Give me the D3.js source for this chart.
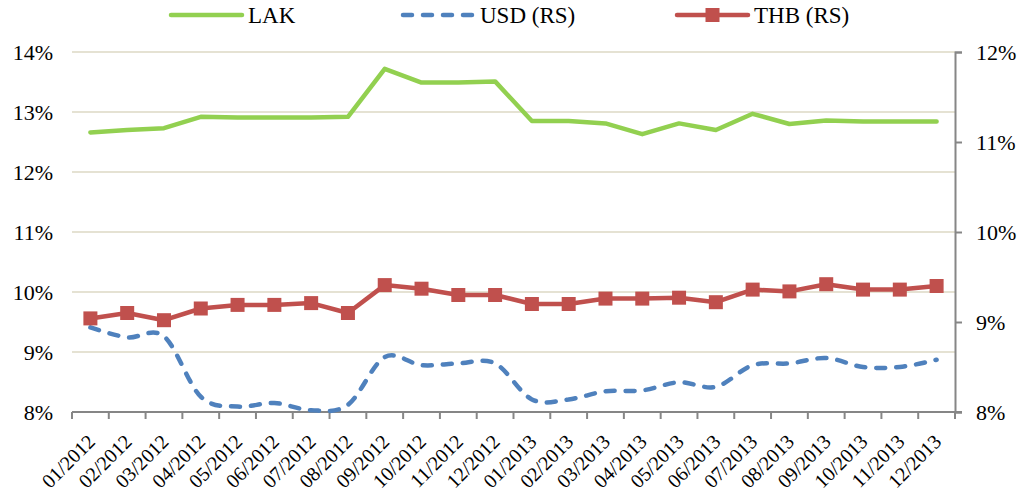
<!DOCTYPE html>
<html>
<head>
<meta charset="utf-8">
<script src="https://cdn.jsdelivr.net/npm/d3@7/dist/d3.min.js"></script>
<style>
  body { margin: 0; background: #fff; }
  svg { display: block; }
  text { font-family: "Liberation Serif", "Times New Roman", serif; fill: #000; }
</style>
</head>
<body>
<div id="chart"></div>
<script>
// months on the category axis
var months = ["01/2012","02/2012","03/2012","04/2012","05/2012","06/2012",
              "07/2012","08/2012","09/2012","10/2012","11/2012","12/2012",
              "01/2013","02/2013","03/2013","04/2013","05/2013","06/2013",
              "07/2013","08/2013","09/2013","10/2013","11/2013","12/2013"];

// LAK, left scale (%)
var lak = [12.66, 12.70, 12.73, 12.92, 12.91, 12.91, 12.91, 12.92, 13.72, 13.49, 13.49, 13.51,
           12.85, 12.85, 12.81, 12.63, 12.81, 12.70, 12.97, 12.80, 12.86, 12.84, 12.84, 12.84];

// USD, right scale (%)
var usd = [8.94, 8.83, 8.84, 8.17, 8.06, 8.10, 8.02, 8.08, 8.61, 8.52, 8.54, 8.54,
           8.14, 8.14, 8.23, 8.24, 8.33, 8.28, 8.52, 8.54, 8.60, 8.50, 8.50, 8.58];

// THB, right scale (%)
var thb = [9.04, 9.10, 9.02, 9.15, 9.19, 9.19, 9.21, 9.10, 9.41, 9.37, 9.30, 9.30,
           9.20, 9.20, 9.26, 9.26, 9.27, 9.22, 9.36, 9.34, 9.42, 9.36, 9.36, 9.40];

var leftTicks = [8, 9, 10, 11, 12, 13, 14];
var rightTicks = [8, 9, 10, 11, 12];

var margin = {top: 52, right: 69, bottom: 79, left: 72},
    W = 1024, H = 491,
    width = W - margin.left - margin.right,
    height = H - margin.top - margin.bottom;

var svg = d3.select("#chart").append("svg")
    .attr("width", W)
    .attr("height", H);

var g = svg.append("g")
    .attr("transform", "translate(" + margin.left + "," + margin.top + ")");

var x = d3.scaleBand().domain(months).range([0, width]);
var yL = d3.scaleLinear().domain([8, 14]).range([height, 0]);
var yR = d3.scaleLinear().domain([8, 12]).range([height, 0]);
var cx = function(i) { return x(months[i]) + x.bandwidth() / 2; };

// gridlines (left axis)
g.append("g")
  .selectAll("line")
  .data(leftTicks.filter(function(d) { return d > 8; }))
  .enter().append("line")
    .attr("x1", 0).attr("x2", width)
    .attr("y1", function(d) { return yL(d); })
    .attr("y2", function(d) { return yL(d); })
    .style("stroke", "#ddd9c4")
    .style("stroke-width", 1.5);

// left axis labels (no line)
var axL = g.append("g")
  .call(d3.axisLeft(yL).tickValues(leftTicks).tickSize(0).tickPadding(19)
        .tickFormat(function(d) { return d + "%"; }));
axL.select(".domain").remove();
axL.selectAll("text").style("font-size", "22px").style("font-family", "Liberation Serif");

// right axis
var axR = g.append("g")
  .attr("transform", "translate(" + width + ",0)")
  .call(d3.axisRight(yR).tickValues(rightTicks).tickSize(7).tickPadding(14)
        .tickFormat(function(d) { return d + "%"; }));
axR.select(".domain").style("stroke", "#868686").style("stroke-width", 2);
axR.selectAll("line").style("stroke", "#868686").style("stroke-width", 2);
axR.selectAll("text").style("font-size", "22px").style("font-family", "Liberation Serif");

// bottom axis: ticks at category boundaries
var xb = g.append("g").attr("transform", "translate(0," + height + ")");
xb.append("line")
  .attr("x1", 0).attr("x2", width + 7)
  .style("stroke", "#868686").style("stroke-width", 2);
xb.selectAll("line.tk")
  .data(d3.range(months.length + 1))
  .enter().append("line")
    .attr("class", "tk")
    .attr("x1", function(i) { return i * x.step(); })
    .attr("x2", function(i) { return i * x.step(); })
    .attr("y1", 0).attr("y2", 7)
    .style("stroke", "#868686").style("stroke-width", 2);
xb.selectAll("text")
  .data(months)
  .enter().append("text")
    .attr("text-anchor", "end")
    .attr("transform", function(d, i) {
      return "translate(" + (cx(i) - 4) + ",21) rotate(-45)";
    })
    .attr("dy", "0.7em")
    .style("font-size", "20px")
    .style("font-family", "Liberation Serif")
    .text(function(d) { return d; });

// lines
var lineL = d3.line().x(function(d, i) { return cx(i); }).y(function(d) { return yL(d); });
var lineR = d3.line().x(function(d, i) { return cx(i); }).y(function(d) { return yR(d); });
var lineSmooth = d3.line().x(function(d, i) { return cx(i); }).y(function(d) { return yR(d); })
    .curve(d3.curveCardinal.tension(0));

g.append("path").datum(lak)
  .attr("d", lineL)
  .style("fill", "none").style("stroke", "#92d050")
  .style("stroke-width", 4.5).style("stroke-linecap", "round").style("stroke-linejoin", "round");

g.append("path").datum(usd)
  .attr("d", lineSmooth)
  .style("fill", "none").style("stroke", "#4f81bd")
  .style("stroke-width", 4.5).style("stroke-linecap", "round")
  .style("stroke-dasharray", "9,11");

g.append("path").datum(thb)
  .attr("d", lineR)
  .style("fill", "none").style("stroke", "#c0504d")
  .style("stroke-width", 4.5).style("stroke-linejoin", "round");

g.selectAll("rect.thb")
  .data(thb)
  .enter().append("rect")
    .attr("class", "thb")
    .attr("x", function(d, i) { return cx(i) - 7; })
    .attr("y", function(d) { return yR(d) - 7; })
    .attr("width", 14).attr("height", 14)
    .style("fill", "#c0504d");

// legend
var legend = [
  {name: "LAK", color: "#92d050", dash: null, marker: false, x: 171},
  {name: "USD (RS)", color: "#4f81bd", dash: "9,11", marker: false, x: 403},
  {name: "THB (RS)", color: "#c0504d", dash: null, marker: true, x: 677}
];
var lg = svg.append("g").selectAll("g")
  .data(legend)
  .enter().append("g")
    .attr("transform", function(d) { return "translate(" + d.x + ",15)"; });
lg.append("line")
  .attr("x1", 0).attr("x2", 71)
  .style("stroke", function(d) { return d.color; })
  .style("stroke-width", 4.5)
  .style("stroke-linecap", "round")
  .style("stroke-dasharray", function(d) { return d.dash; });
lg.filter(function(d) { return d.marker; }).append("rect")
  .attr("x", 28.5).attr("y", -7).attr("width", 14).attr("height", 14)
  .style("fill", function(d) { return d.color; });
lg.append("text")
  .attr("x", 77).attr("dy", "0.35em")
  .style("font-size", "23px")
  .style("font-family", "Liberation Serif")
  .text(function(d) { return d.name; });
</script>
</body>
</html>
